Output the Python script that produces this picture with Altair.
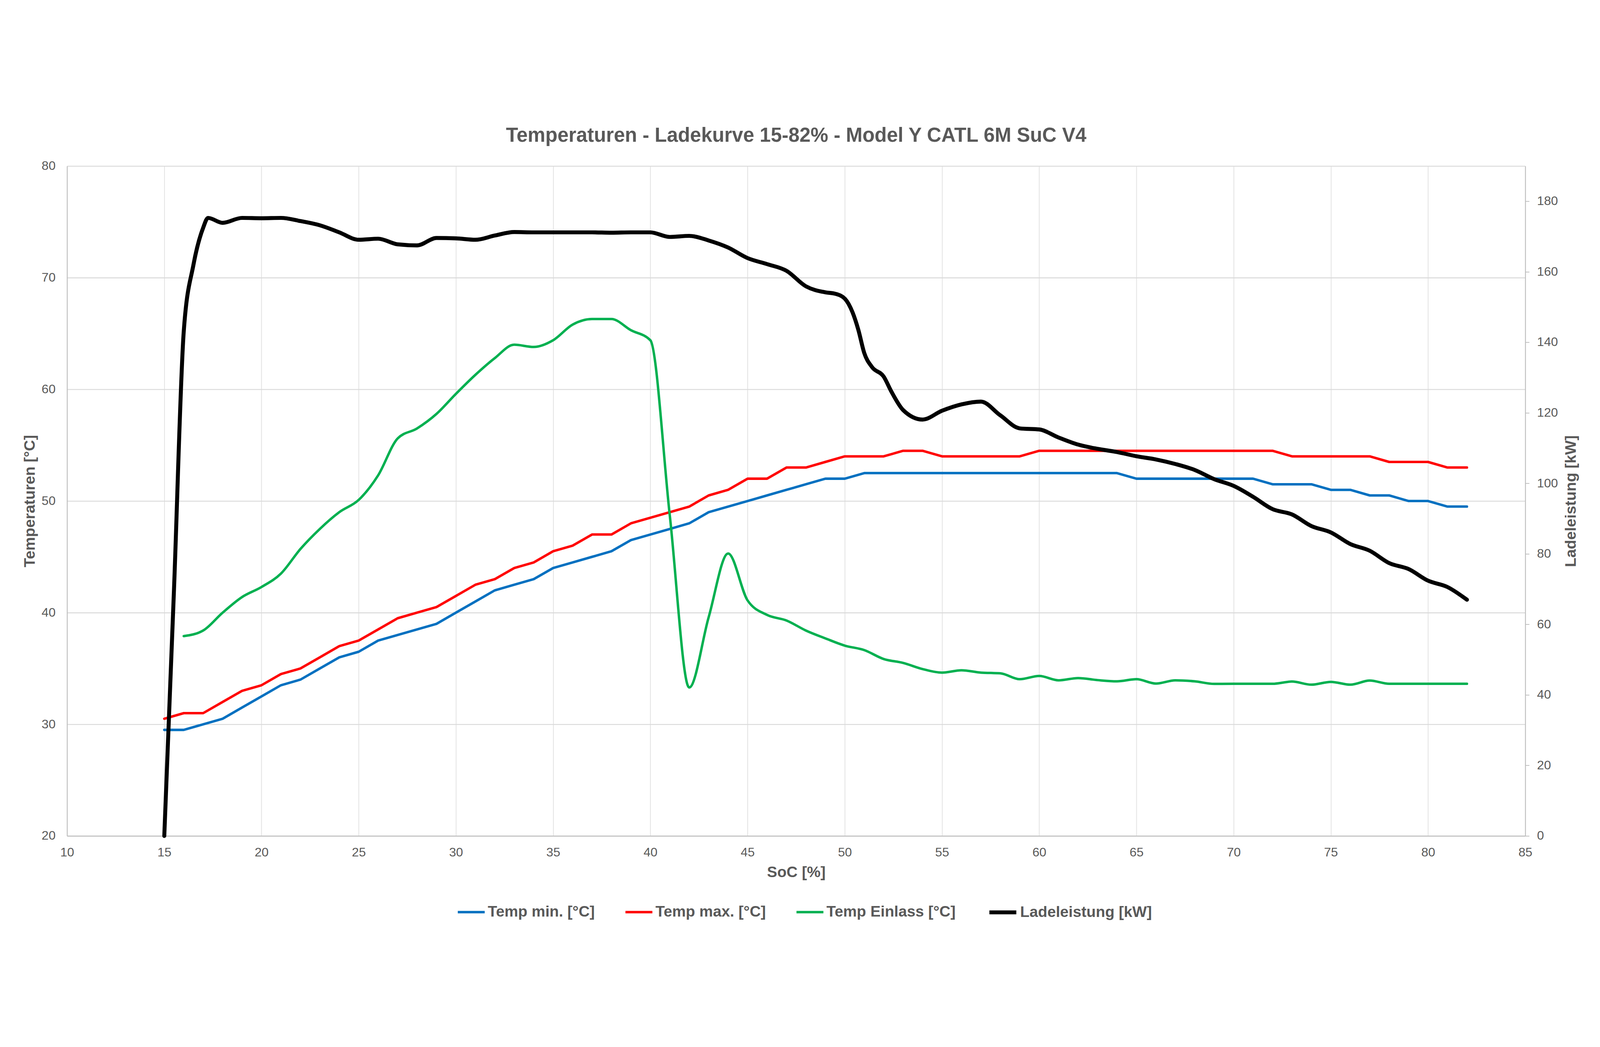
import altair as alt
import pandas as pd

NAMES = ["Temp min. [°C]", "Temp max. [°C]", "Temp Einlass [°C]", "Ladeleistung [kW]"]
COLORS = ["#0070C0", "#FF0000", "#00B050", "#000000"]
WIDTHS = [8, 8, 8, 13]

soc = list(range(15, 83))

temp_min = [29.5, 29.5, 30, 30.5, 31.5, 32.5, 33.5, 34, 35, 36,
            36.5, 37.5, 38, 38.5, 39, 40, 41, 42, 42.5, 43,
            44, 44.5, 45, 45.5, 46.5, 47, 47.5, 48, 49, 49.5,
            50, 50.5, 51, 51.5, 52, 52, 52.5,
            52.5, 52.5, 52.5, 52.5, 52.5, 52.5, 52.5, 52.5, 52.5, 52.5, 52.5, 52.5, 52.5,
            52, 52, 52, 52, 52, 52, 52,
            51.5, 51.5, 51.5, 51, 51, 50.5, 50.5, 50, 50, 49.5, 49.5]

temp_max = [30.5, 31, 31, 32, 33, 33.5, 34.5, 35, 36, 37,
            37.5, 38.5, 39.5, 40, 40.5, 41.5, 42.5, 43, 44, 44.5,
            45.5, 46, 47, 47, 48, 48.5, 49, 49.5, 50.5, 51,
            52, 52, 53, 53, 53.5, 54, 54, 54, 54.5, 54.5,
            54, 54, 54, 54, 54,
            54.5, 54.5, 54.5, 54.5, 54.5, 54.5, 54.5, 54.5, 54.5, 54.5, 54.5, 54.5, 54.5,
            54, 54, 54, 54, 54,
            53.5, 53.5, 53.5, 53, 53]

temp_einlass = [None, 37.9, 38.4, 40.0, 41.4, 42.3, 43.5, 45.7, 47.5, 49.0,
                50.1, 52.3, 55.6, 56.5, 57.8, 59.6, 61.3, 62.8, 64.0, 63.8,
                64.4, 65.8, 66.3, 66.3, 65.3, 64.4, 48.7, 33.3, 39.6, 45.3,
                41.1, 39.8, 39.3, 38.4, 37.7, 37.05, 36.65, 35.85, 35.5, 34.95,
                34.63, 34.84, 34.63, 34.57, 34.04, 34.33, 33.94, 34.14, 33.96, 33.85,
                34.04, 33.65, 33.94, 33.85, 33.62, 33.63, 33.63, 33.63, 33.83, 33.55,
                33.8, 33.55, 33.92, 33.63, 33.63, 33.63, 33.63, 33.63]

power_soc = [15, 15.5, 16, 16.5, 17, 17.25,
             18, 19, 20, 21, 22, 23, 24, 25, 26, 27, 28, 29, 30, 31, 32, 33,
             34, 35, 36, 37, 38, 39, 40, 41, 42, 43, 44, 45, 46, 47, 48, 49,
             49.5, 50, 50.4, 50.7, 51, 51.4, 52, 52.4, 53,
             54, 55, 56, 57, 58, 59, 60, 61, 62, 63, 64, 65, 66, 67, 68,
             69, 70, 71, 72, 73, 74, 75, 76, 77, 78, 79, 80, 81, 82]
power = [0, 70, 143, 162, 172.5, 175.3,
         173.9, 175.3, 175.2, 175.3, 174.4, 173.2, 171.2, 169.1, 169.4, 167.8, 167.5, 169.6, 169.5, 169.1, 170.3, 171.3,
         171.2, 171.2, 171.2, 171.2, 171.1, 171.2, 171.2, 169.9, 170.2, 168.9, 166.9, 163.9, 162.2, 160.3, 155.9, 154.2,
         153.8, 152.4, 148.5, 143.5, 137.0, 133.0, 130.3, 126.0, 120.8,
         118.1, 120.6, 122.4, 123.2, 119.3, 115.6, 115.3, 113.0, 111.0, 109.8, 108.9, 107.7, 106.8, 105.5, 103.8,
         101.2, 99.3, 96.2, 92.7, 91.2, 87.9, 86.1, 82.8, 80.9, 77.4, 75.7, 72.4, 70.6, 67.0]

x_ticks = list(range(10, 90, 5))
left_ticks = list(range(20, 90, 10))
right_ticks = list(range(0, 200, 20))

FONT = "Liberation Sans"
GRAY = "#595959"

rows_lin = []
for s, a, b in zip(soc, temp_min, temp_max):
    rows_lin.append({"soc": s, "series": NAMES[0], "value": a})
    rows_lin.append({"soc": s, "series": NAMES[1], "value": b})
df_lin = pd.DataFrame(rows_lin)
df_green = pd.DataFrame([{"soc": s, "series": NAMES[2], "value": v}
                         for s, v in zip(soc, temp_einlass) if v is not None])
df_power = pd.DataFrame({"soc": power_soc, "series": NAMES[3], "value": power})

PLOT_W = 4766
PLOT_H = 2190

legend = alt.Legend(orient="none", legendX=1273, legendY=2389, direction="horizontal", title=None)
color = alt.Color("series:N", scale=alt.Scale(domain=NAMES, range=COLORS), legend=legend)
swidth = alt.StrokeWidth("series:N", scale=alt.Scale(type="ordinal", domain=NAMES, range=WIDTHS), legend=legend)

xenc = alt.X("soc:Q", scale=alt.Scale(domain=[10, 85], nice=False, zero=False),
             axis=alt.Axis(values=x_ticks, title="SoC [%]", grid=True, gridColor="#E2E2E2", gridWidth=2.5,
                           ticks=False, tickSize=0, labelPadding=34, domainColor="#BFBFBF", domainWidth=3,
                           titleY=134, titleBaseline="alphabetic", labelFlush=False))

yleft = alt.Y("value:Q", scale=alt.Scale(domain=[20, 80], nice=False, zero=False),
              axis=alt.Axis(values=left_ticks, title="Temperaturen [°C]", grid=True, gridColor="#D9D9D9",
                            gridWidth=3, ticks=False, tickSize=0, labelPadding=38, domainColor="#BFBFBF",
                            domainWidth=3, titleAngle=270, titleX=-106, titleY=PLOT_H / 2,
                            titleBaseline="alphabetic"))

yright = alt.Y("value:Q", scale=alt.Scale(domain=[0, 190], nice=False, zero=False),
               axis=alt.Axis(values=right_ticks, orient="right", title="Ladeleistung [kW]", grid=False,
                             ticks=True, tickSize=13, tickColor="#BFBFBF", tickWidth=2.5, labelPadding=25,
                             domainColor="#BFBFBF", domainWidth=3, titleAngle=270, titleX=164,
                             titleY=PLOT_H / 2, titleBaseline="alphabetic"))

lin = alt.Chart(df_lin).mark_line(interpolate="linear", strokeCap="round", strokeJoin="round").encode(
    x=xenc, y=yleft, color=color, strokeWidth=swidth, detail="series:N")
green = alt.Chart(df_green).mark_line(interpolate="monotone", strokeCap="round", strokeJoin="round").encode(
    x=xenc, y=yleft, color=color, strokeWidth=swidth)
black = alt.Chart(df_power).mark_line(interpolate="monotone", strokeCap="round", strokeJoin="round").encode(
    x=xenc, y=yright, color=color, strokeWidth=swidth)

temps = alt.layer(lin, green)
chart = alt.layer(temps, black).resolve_scale(y="independent").properties(
    width=PLOT_W, height=PLOT_H,
    autosize=alt.AutoSizeParams(type="none"),
    padding={"left": 209, "top": 164, "right": 234, "bottom": 311},
    title=alt.TitleParams("Temperaturen - Ladekurve 15-82% - Model Y CATL 6M SuC V4", fontSize=65,
                          font=FONT, fontWeight="bold", color=GRAY, anchor="middle", offset=0, dy=6,
                          baseline="alphabetic"),
).configure_axis(
    labelFont=FONT, labelFontSize=41, labelColor=GRAY, titleFont=FONT, titleFontSize=50,
    titleFontWeight="bold", titleColor=GRAY,
).configure_legend(
    labelFont=FONT, labelFontSize=50, labelFontWeight="bold", labelColor=GRAY, symbolType="stroke",
    symbolSize=7744, labelOffset=6, columnPadding=84, padding=0, labelLimit=1000,
).configure_view(stroke=None)

chart.save("out.html", embed_options={"renderer": "svg", "actions": False})
